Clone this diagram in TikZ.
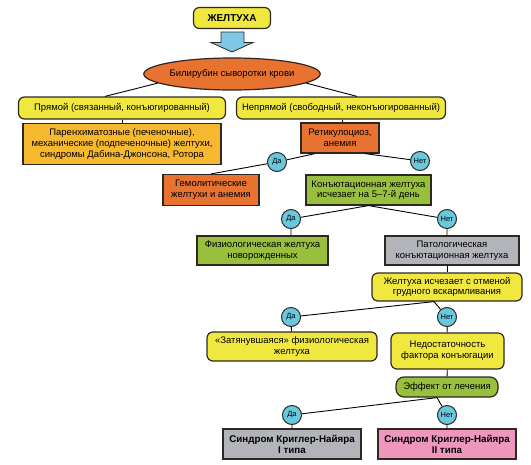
\documentclass[tikz,border=0pt]{standalone}
\usepackage{fontspec}
\setmainfont{Liberation Sans}
\usetikzlibrary{shapes.geometric}

\definecolor{frame}{RGB}{45,40,35}
\definecolor{yellowbox}{RGB}{240,232,62}
\definecolor{orangebox}{RGB}{232,114,48}
\definecolor{parenchbox}{RGB}{246,184,46}
\definecolor{greenbox}{RGB}{152,192,60}
\definecolor{graybox}{RGB}{178,180,186}
\definecolor{pinkbox}{RGB}{238,150,190}
\definecolor{bluecirc}{RGB}{105,200,222}
\definecolor{arrowblue}{RGB}{125,200,228}

\begin{document}
\begin{tikzpicture}[x=1pt,y=-1pt,
  font=\fontsize{9.5}{10.6}\selectfont,
  rbox/.style={draw=frame,line width=1.2pt,rounded corners=6pt,fill=yellowbox,align=center,inner sep=0pt},
  sbox/.style={draw=frame,line width=1.2pt,align=center,inner sep=0pt},
  yesno/.style={circle,draw=frame,line width=1pt,fill=bluecirc,minimum size=19pt,inner sep=0pt,font=\fontsize{7.5}{8}\selectfont},
  link/.style={line width=0.9pt}]
\useasboundingbox (0,0) rectangle (531,464);

\node[rbox,minimum width=77pt,minimum height=21pt,font=\fontsize{10}{12}\selectfont\bfseries] (zheltukha) at (232,18) {ЖЕЛТУХА};
\draw[draw=frame,fill=arrowblue,line width=0.8pt] (221,32) -- (244,32) -- (244,42.5) -- (253,42.5) -- (232,52) -- (211,42.5) -- (221,42.5) -- cycle;
\node[ellipse,draw=frame,line width=1.2pt,fill=orangebox,minimum width=155pt,minimum height=32pt,inner sep=0pt] (bili) at (232,74) {Билирубин сыворотки крови};

\node[rbox,minimum width=207pt,minimum height=22pt] (pryamoj) at (122,108) {Прямой (связанный, конъюгированный)};
\node[rbox,minimum width=209pt,minimum height=22pt] (neprjamoj) at (341,108) {Непрямой (свободный, неконъюгированный)};
\node[sbox,fill=parenchbox,minimum width=198pt,minimum height=41pt] (parenh) at (122,144) {Паренхиматозные (печеночные),\\механические (подпеченочные) желтухи,\\синдромы Дабина-Джонсона, Ротора};
\node[sbox,fill=orangebox,minimum width=78pt,minimum height=30pt] (retik) at (340,138) {Ретикулоциоз,\\анемия};
\node[sbox,fill=orangebox,minimum width=96pt,minimum height=31pt] (gemol) at (211,190) {Гемолитические\\желтухи и анемия};
\node[sbox,fill=greenbox,minimum width=125pt,minimum height=30pt] (konj) at (368.5,190) {Конъютационная желтуха\\исчезает на 5--7-й день};
\node[sbox,fill=greenbox,minimum width=131pt,minimum height=29pt] (fiziol) at (262.5,250.5) {Физиологическая желтуха\\новорожденных};
\node[sbox,fill=graybox,minimum width=134pt,minimum height=29pt] (patol) at (452,250.5) {Патологическая\\конъютационная желтуха};
\node[rbox,minimum width=150pt,minimum height=28pt] (otmena) at (447,287) {Желтуха исчезает с отменой\\грудного вскармливания};
\node[rbox,minimum width=170pt,minimum height=29pt] (zatjan) at (292,346.5) {«Затянувшаяся» физиологическая\\желтуха};
\node[rbox,minimum width=113pt,minimum height=36pt] (nedost) at (447.5,351) {Недостаточность\\фактора конъюгации};
\node[rbox,fill=greenbox,rounded corners=8pt,minimum width=102pt,minimum height=20pt] (effekt) at (447,387) {Эффект от лечения};
\node[sbox,fill=graybox,minimum width=138pt,minimum height=30pt,font=\fontsize{9.8}{11}\selectfont\bfseries] (krigler1) at (292,444) {Синдром Криглер-Найяра\\I типа};
\node[sbox,fill=pinkbox,minimum width=138pt,minimum height=30pt,font=\fontsize{9.8}{11}\selectfont\bfseries] (krigler2) at (447,444) {Синдром Криглер-Найяра\\II типа};

\foreach \n/\x/\y/\t in {da1/277/162/Да, net1/420/161/Нет, da2/291/219/Да, net2/447/219/Нет,
                         da3/291/317/Да, net3/447/317/Нет, da4/292/415/Да, net4/447/415/Нет}
  \node[yesno] (\n) at (\x,\y) {\t};

\draw[link] (bili.187) -- ([xshift=-17pt]pryamoj.north);
\draw[link] (bili.-7) -- ([xshift=16pt]neprjamoj.north);
\draw[link] (pryamoj.south) -- (parenh.north);
\draw[link] ([xshift=1pt]neprjamoj.south) -- ([xshift=1pt]neprjamoj.south |- retik.north);
\draw[link] ([xshift=-25pt]retik.south) -- (da1) -- (gemol.north);
\draw[link] ([xshift=25pt]retik.south) -- (net1);
\draw[link] (konj.south) -- (da2) -- (da2 |- fiziol.north);
\draw[link] (konj.south) -- (net2) -- (net2 |- patol.north);
\draw[link] (net2 |- patol.south) -- (net2 |- otmena.north);
\draw[link] ([xshift=-13pt]otmena.south) -- (da3) -- (zatjan);
\draw[link] ([xshift=-13pt]otmena.south) -- (net3) -- (nedost);
\draw[link] (nedost) -- (effekt);
\draw[link] ([xshift=-10pt]effekt.south) -- (da4) -- (krigler1);
\draw[link] ([xshift=-10pt]effekt.south) -- (net4) -- (krigler2);
\end{tikzpicture}
\end{document}
